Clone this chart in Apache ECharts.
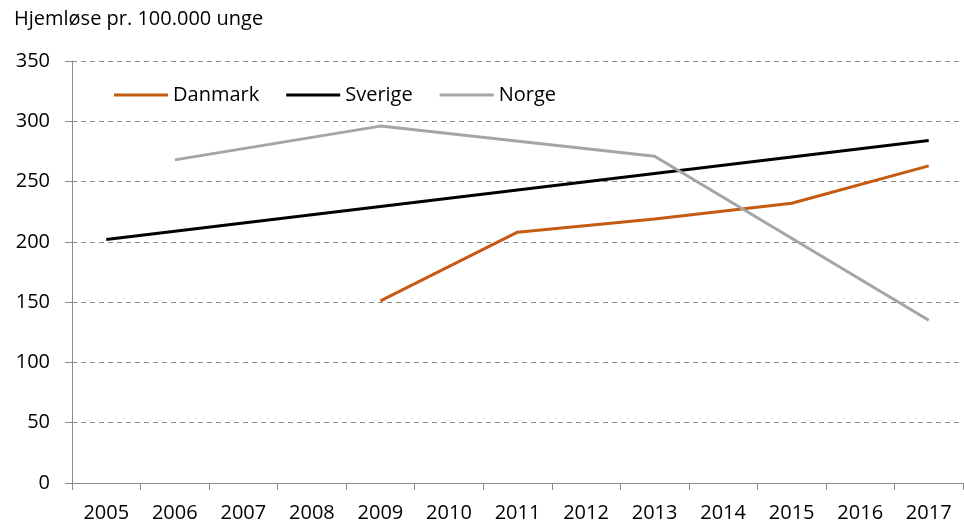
<!DOCTYPE html>
<html>
<head>
<meta charset="utf-8">
<script src="https://cdn.jsdelivr.net/npm/echarts@6/dist/echarts.min.js"></script>
<style>
  html, body { margin: 0; padding: 0; background: #fff; }
  #chart { width: 964px; height: 526px; }
</style>
</head>
<body>
<div id="chart"></div>
<script>
// data
var years = ['2005', '2006', '2007', '2008', '2009', '2010', '2011', '2012', '2013', '2014', '2015', '2016', '2017'];
var danmark = [null, null, null, null, 151, null, 208, null, 219, null, 232, null, 263];
var sverige = [202, null, null, null, null, null, null, null, null, null, null, null, 284];
var norge = [null, 268, null, null, 296, null, null, null, 271, null, null, null, 135];

var font = 'Open Sans';
var myChart = echarts.init(document.getElementById('chart'));

function line(name, data, color) {
  return {
    name: name,
    type: 'line',
    data: data,
    connectNulls: true,
    showSymbol: false,
    symbol: 'none',
    lineStyle: { color: color, width: 3 },
    itemStyle: { color: color },
    animation: false
  };
}

var option = {
  backgroundColor: '#fff',
  title: {
    text: 'Hjemløse pr. 100.000 unge',
    left: 9,
    top: 4,
    textStyle: { fontFamily: font, fontSize: 20, fontWeight: 'normal', color: '#000' }
  },
  legend: {
    left: 109,
    top: 80,
    icon: 'rect',
    itemWidth: 54,
    itemHeight: 3,
    itemGap: 27,
    textStyle: { fontFamily: font, fontSize: 20, color: '#000' },
    data: ['Danmark', 'Sverige', 'Norge']
  },
  grid: { left: 72, right: 1, top: 61, bottom: 43 },
  xAxis: {
    type: 'category',
    data: years,
    boundaryGap: true,
    axisLine: { lineStyle: { color: '#8c8c8c', width: 1 } },
    axisTick: { show: true, length: 7, lineStyle: { color: '#8c8c8c' } },
    axisLabel: { fontFamily: font, fontSize: 20, color: '#000', margin: 20 },
    splitLine: { show: false }
  },
  yAxis: {
    type: 'value',
    min: 0,
    max: 350,
    interval: 50,
    axisLine: { show: true, lineStyle: { color: '#8c8c8c', width: 1 } },
    axisTick: { show: true, length: 7, lineStyle: { color: '#8c8c8c' } },
    axisLabel: { fontFamily: font, fontSize: 20, color: '#000', margin: 22 },
    splitLine: { show: true, lineStyle: { color: '#8c8c8c', type: [5, 4], width: 1 } }
  },
  series: [
    line('Danmark', danmark, '#C55A11'),
    line('Sverige', sverige, '#000000'),
    line('Norge', norge, '#A5A5A5')
  ]
};
myChart.setOption(option);
</script>
</body>
</html>
